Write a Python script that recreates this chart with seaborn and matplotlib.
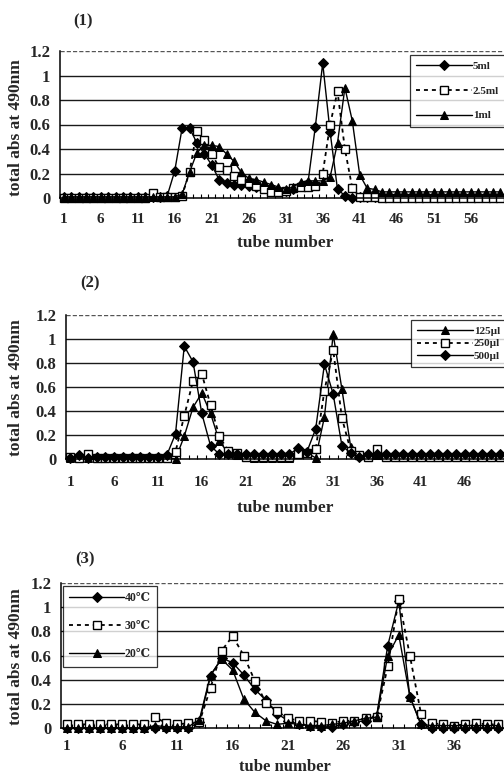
import matplotlib
matplotlib.use("Agg")
import matplotlib.pyplot as plt
import seaborn as sns
import pandas as pd

# ---------------- data ----------------
tubes1 = list(range(1, 61))
ml5 = [0.01]*14 + [0.02,
       0.22, 0.57, 0.57, 0.45, 0.36, 0.27, 0.15, 0.12, 0.11, 0.11,
       0.10, 0.09, 0.09, 0.08, 0.06, 0.06, 0.07, 0.10, 0.12, 0.58,
       1.10, 0.54, 0.07, 0.02, 0.00] + [0.01]*20
ml2_5 = [0.00]*12 + [0.04, 0.01, 0.01, 0.01, 0.02,
         0.21, 0.55, 0.47, 0.36, 0.25, 0.23, 0.18, 0.15, 0.12, 0.10,
         0.07, 0.05, 0.05, 0.06, 0.08, 0.09, 0.09, 0.10, 0.20, 0.60,
         0.87, 0.40, 0.08, 0.01, 0.01, 0.01] + [0.00]*17
ml1 = [0.01]*16 + [0.03,
       0.21, 0.37, 0.43, 0.43, 0.42, 0.36, 0.30, 0.21, 0.16, 0.15,
       0.13, 0.11, 0.09, 0.07, 0.09, 0.13, 0.14, 0.14, 0.14, 0.17,
       0.45, 0.90, 0.63, 0.19, 0.08, 0.07] + [0.05]*17

tubes2 = list(range(1, 51))
ul125 = [0.01, 0.03] + [0.01]*10 + [0.00,
         0.19, 0.43, 0.55, 0.38, 0.15, 0.05, 0.03, 0.02, 0.01, 0.01,
         0.01, 0.01, 0.01, 0.05, 0.05, 0.01, 0.35, 1.04, 0.58, 0.10,
         0.03] + [0.03]*16
ul250 = [0.02, 0.01, 0.04] + [0.01]*9 + [0.06,
         0.36, 0.65, 0.71, 0.45, 0.19, 0.07, 0.05, 0.02, 0.02, 0.02,
         0.02, 0.02, 0.02, 0.04, 0.05, 0.08, 0.57, 0.91, 0.34, 0.07,
         0.03, 0.02, 0.08] + [0.02]*14
ul500 = [0.01, 0.03, 0.01] + [0.02]*8 + [0.03, 0.21,
         0.94, 0.81, 0.38, 0.11, 0.04, 0.04, 0.04, 0.04, 0.04, 0.04,
         0.04, 0.04, 0.04, 0.09, 0.06, 0.25, 0.79, 0.54, 0.11, 0.05,
         0.02] + [0.04]*16

tubes3 = list(range(1, 41))
c40 = [0.00]*12 + [0.05, 0.43, 0.58, 0.54, 0.44, 0.32, 0.23, 0.12, 0.06,
       0.03, 0.02, 0.01, 0.01, 0.03, 0.05, 0.06, 0.10, 0.68, 1.05,
       0.26, 0.03] + [0.00]*7
c30 = [0.03]*8 + [0.09, 0.04, 0.03, 0.04, 0.05, 0.33, 0.64, 0.76, 0.60,
       0.39, 0.21, 0.14, 0.08, 0.06, 0.06, 0.05, 0.04, 0.06, 0.06,
       0.08, 0.09, 0.51, 1.07, 0.60, 0.12, 0.04, 0.03, 0.02, 0.03,
       0.04, 0.03, 0.03]
c20 = [0.00]*8 + [0.02, 0.01, 0.01, 0.01, 0.07, 0.44, 0.57, 0.48, 0.24,
       0.13, 0.06, 0.03, 0.04, 0.03, 0.02, 0.02, 0.03, 0.04, 0.06,
       0.08, 0.09, 0.60, 0.77, 0.26, 0.03] + [0.02]*7

yticks = [0, 0.2, 0.4, 0.6, 0.8, 1, 1.2]
ytick_labels = ["0", "0.2", "0.4", "0.6", "0.8", "1", "1.2"]

# ---------------- style ----------------
sns.set_theme(style="white")
plt.rcParams["font.family"] = ["Liberation Serif", "DejaVu Serif", "Noto Sans CJK SC"]
plt.rcParams["font.weight"] = "bold"

W, H = 504, 779
fig = plt.figure(figsize=(W / 100, H / 100), dpi=100)
fig.patch.set_facecolor("white")

STY = {
    "D": dict(marker="D", markersize=5, markerfacecolor="black", markeredgecolor="black",
              linestyle="-", linewidth=1.0),
    "s": dict(marker="s", markersize=5.5, markerfacecolor="white", markeredgecolor="black",
              markeredgewidth=1.0, linestyle=(0, (2.2, 2.2)), linewidth=1.3),
    "^": dict(marker="^", markersize=6, markerfacecolor="black", markeredgecolor="black",
              linestyle="-", linewidth=1.0),
}


def make_axes(left, top, right, bottom):
    return fig.add_axes([left / W, 1 - bottom / H, (right - left) / W, (bottom - top) / H])


def panel(ax, tubes, series, xmax, legend_box, legend_fs, labelspacing, handlelength,
          title, title_xy, tick_pad, xlabel_y, ylabel_y, xlabel_fs=12.5):
    for name, vals, mk in series:
        df = pd.DataFrame({"tube": tubes, "abs": vals})
        sns.lineplot(data=df, x="tube", y="abs", ax=ax, color="black", label=name,
                     clip_on=False, **STY[mk])
    ax.set_xlim(0.5, xmax)
    ax.set_ylim(0, 1.2)
    ax.set_yticks(yticks)
    ax.set_yticklabels(ytick_labels)
    ax.set_xticks(tubes[::5])
    ax.set_xticklabels([str(t) for t in tubes[::5]])
    ax.set_xticks([t + 0.5 for t in tubes], minor=True)
    ax.tick_params(axis="x", which="major", length=0, pad=tick_pad, labelsize=11)
    ax.tick_params(axis="x", which="minor", bottom=True, direction="in", length=3,
                   width=0.8, color="black")
    ax.tick_params(axis="y", length=0, pad=7, labelsize=12)
    for lab in ax.get_xticklabels() + ax.get_yticklabels():
        lab.set_fontweight("bold")
    ax.grid(axis="y", color="#1a1a1a", linewidth=1.0)
    ax.grid(axis="x", visible=False)
    gl = ax.get_ygridlines()
    gl[0].set_visible(False)
    gl[-1].set_linestyle((0, (3, 1.5)))
    gl[-1].set_color("#555555")
    for s in ["top", "right"]:
        ax.spines[s].set_visible(False)
    for s in ["left", "bottom"]:
        ax.spines[s].set_color("black")
        ax.spines[s].set_linewidth(1.1)
    ax.set_xlabel("tube number", fontsize=xlabel_fs, fontweight="bold")
    ax.xaxis.set_label_coords(285 / W, 1 - xlabel_y / H, transform=fig.transFigure)
    ax.xaxis.label.set_verticalalignment("baseline")
    ax.set_ylabel("total abs at 490nm", fontsize=12.5, fontweight="bold")
    ax.yaxis.set_label_coords(24 / W, 1 - ylabel_y / H, transform=fig.transFigure)
    leg = ax.legend(loc="upper left", bbox_to_anchor=(legend_box[0] / W, 1 - legend_box[1] / H),
                    bbox_transform=fig.transFigure, frameon=True, fancybox=False,
                    shadow=False, handlelength=handlelength, handletextpad=0.1,
                    labelspacing=labelspacing, borderpad=0.55, borderaxespad=0,
                    numpoints=1, prop={"weight": "bold", "size": legend_fs})
    leg.get_frame().set_edgecolor("black")
    leg.get_frame().set_linewidth(0.9)
    fig.text(title_xy[0] / W, 1 - title_xy[1] / H, title, fontsize=12, fontweight="bold",
             ha="left", va="baseline")


ax1 = make_axes(60, 51, 504, 198)
panel(ax1, tubes1, [("5ml", ml5, "D"), ("2.5ml", ml2_5, "s"), ("1ml", ml1, "^")],
      60.07, (410, 55), 8, 1.35, 5.0, "(1)", (73, 25), 11, 247, 128)

ax2 = make_axes(66, 315, 504, 459)
panel(ax2, tubes2, [("125µl", ul125, "^"), ("250µl", ul250, "s"), ("500µl", ul500, "D")],
      50.07, (411, 320), 8, 0.25, 5.0, "(2)", (80, 287), 12, 512, 388)

ax3 = make_axes(61, 583, 504, 728)
panel(ax3, tubes3, [("40℃", c40, "D"), ("30℃", c30, "s"), ("20℃", c20, "^")],
      39.67, (63, 586), 8.5, 1.35, 4.6, "(3)", (75, 563), 8.5, 771, 657, xlabel_fs=12)

fig.savefig("out.png", dpi=100, facecolor="white")
